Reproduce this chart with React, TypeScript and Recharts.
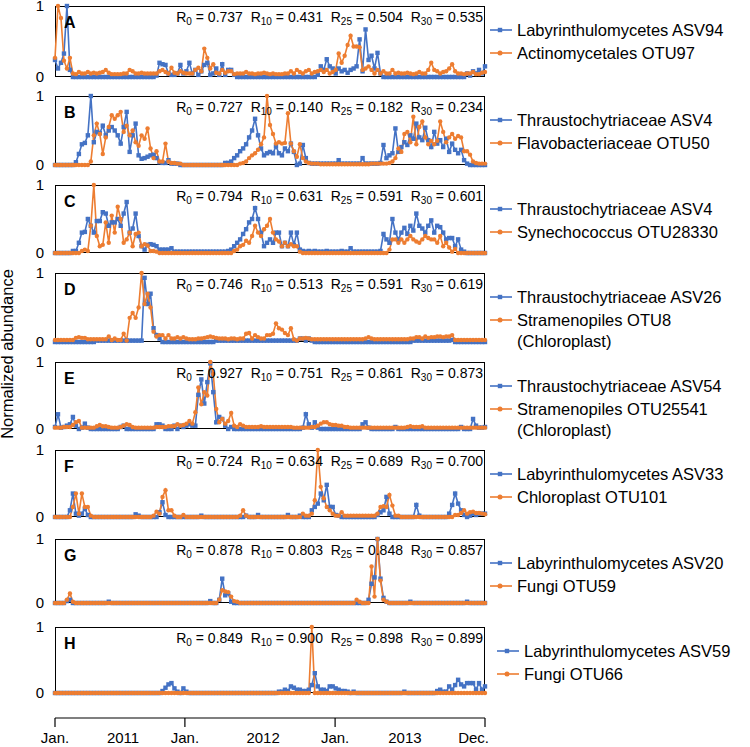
import React from "react";
import { LineChart, Line, XAxis, YAxis } from "recharts";

const BLUE = "#4472C4";
const ORANGE = "#ED7D31";
const FONT = "'Liberation Sans', Arial, sans-serif";

// panel labels and stats
const letters = ["A", "B", "C", "D", "E", "F", "G", "H"];
const r0 = ["0.737", "0.727", "0.794", "0.746", "0.927", "0.724", "0.878", "0.849"];
const r10 = ["0.431", "0.140", "0.631", "0.513", "0.751", "0.634", "0.803", "0.900"];
const r25 = ["0.504", "0.182", "0.591", "0.591", "0.861", "0.689", "0.848", "0.898"];
const r30 = ["0.535", "0.234", "0.601", "0.619", "0.873", "0.700", "0.857", "0.899"];
const blueNames = [
  "Labyrinthulomycetes ASV94",
  "Thraustochytriaceae ASV4",
  "Thraustochytriaceae ASV4",
  "Thraustochytriaceae ASV26",
  "Thraustochytriaceae ASV54",
  "Labyrinthulomycetes ASV33",
  "Labyrinthulomycetes ASV20",
  "Labyrinthulomycetes ASV59",
];
const orangeNames = [
  "Actinomycetales OTU97",
  "Flavobacteriaceae OTU50",
  "Synechococcus OTU28330",
  "Stramenopiles OTU8\n(Chloroplast)",
  "Stramenopiles OTU25541\n(Chloroplast)",
  "Chloroplast OTU101",
  "Fungi OTU59",
  "Fungi OTU66",
];

// bottom axis labels (x in sample index)
const axisTicks = [0, 22.8, 43.5, 69.7, 93.8, 117.2, 144];
const axisLabels = ["Jan.", "2011", "Jan.", "2012", "Jan.", "2013", "Dec."];
const axisMarks = [true, false, true, false, true, false, true];

// series, one value per sample (145 samples)
const aBlue = [
  .24, .12, .2, .33, 1, .1, 0, 0, 0, 0,
  0, 0, 0, 0, 0, 0, 0, 0, 0, 0,
  0, 0, 0, 0, 0, 0, 0, 0, 0, 0,
  0, 0, 0, 0, .02, .2, .18, .17, .05, .03,
  .03, .05, .17, .05, .08, .2, .05, .1, .03, .08,
  .17, .2, .03, .05, .12, .03, .18, .03, .1, .1,
  .03, 0, 0, 0, 0, 0, 0, 0, 0, 0,
  0, 0, 0, 0, 0, 0, 0, 0, 0, 0,
  0, 0, 0, 0, 0, 0, 0, 0, .03, .15,
  .1, .25, .15, .12, .05, .12, .08, .1, .06, .1,
  .12, .15, .53, .08, .67, .24, .3, .12, .34, .05,
  0, 0, 0, 0, 0, 0, 0, 0, 0, 0,
  0, 0, 0, 0, 0, 0, 0, 0, 0, 0,
  0, 0, 0, 0, 0, 0, 0, 0, .05, .02,
  .08, .05, .1, .05, .15,
];
const aOrange = [
  .27, 1, .83, .23, .12, .27, .05, .04, .07, .05,
  .05, .07, .05, .06, .05, .06, .07, .1, .06, .04,
  .04, .04, .04, .05, .05, .1, .08, .05, .05, .06,
  .05, .05, .05, .05, .05, .08, .1, .07, .05, .13,
  .06, .05, .08, .06, .05, .05, .05, .1, .13, .08,
  .4, .27, .12, .18, .06, .05, .1, .06, .08, .08,
  .04, .05, .05, .05, .07, .05, .05, .04, .05, .05,
  .06, .05, .04, .05, .04, .04, .04, .05, .05, .08,
  .05, .1, .07, .05, .08, .1, .05, .07, .08, .1,
  .07, .1, .05, .07, .1, .33, .2, .3, .45, .58,
  .43, .43, .42, .1, .12, .15, .1, .05, .1, .05,
  .08, .05, .05, .1, .05, .06, .05, .05, .06, .05,
  .04, .05, .07, .05, .05, .1, .2, .1, .08, .05,
  .07, .08, .12, .18, .08, .05, .05, .04, .05, .05,
  .07, .04, .04, .06, .07,
];
const bBlue = [
  0, 0, 0, 0, 0, 0, 0, .04, .16, .3,
  .32, .43, 1, .33, .48, .46, .57, .43, .5, .55,
  .5, .43, .31, .55, .77, .19, .43, .6, .14, .09,
  .1, .12, .14, .15, .1, .04, .03, .03, .07, .02,
  .02, .02, 0, 0, 0, 0, 0, 0, 0, 0,
  0, 0, 0, 0, 0, 0, 0, .03, .03, .05,
  .1, .14, .2, .24, .3, .4, .5, .67, .43, .24,
  .14, .17, .19, .17, .27, .17, .14, .24, .2, .31,
  .19, 0, .02, .29, .1, .03, .02, .02, .02, .02,
  .02, .02, .02, .02, .02, .07, .02, .02, .02, .02,
  .02, .02, .02, .1, .02, .02, .02, .02, .02, .03,
  .29, .1, .14, .17, .53, .19, .26, .33, .29, .43,
  .38, .6, .4, .36, .54, .36, .26, .48, .31, .36,
  .26, .38, .19, .31, .22, .17, .22, .07, .02, 0,
  0, 0, 0, 0, 0,
];
const bOrange = [
  0, 0, 0, 0, 0, 0, 0, 0, 0, 0,
  0, 0, .05, .43, .6, .45, .16, .4, .55, .72,
  .67, .72, .77, .48, .57, .43, .5, .33, .28, .43,
  .38, .53, .24, .1, .2, .05, .05, .31, .05, .03,
  .03, .02, .02, 0, 0, 0, 0, 0, 0, 0,
  0, 0, 0, 0, 0, 0, 0, 0, 0, 0,
  0, 0, .02, .03, .05, .1, .14, .17, .22, .3,
  .4, 1, .58, .45, .31, .33, .31, .32, .75, .31,
  .2, .12, .3, .1, .05, .03, .02, .02, .02, .01,
  .01, .01, .01, .01, .01, .01, .01, .01, .01, .01,
  .01, .01, .01, .01, .01, .01, .02, .02, .02, .02,
  .02, .02, .03, .05, .1, .24, .19, .45, .48, .33,
  .7, .3, .55, .63, .4, .3, .35, .3, .35, .63,
  .48, .33, .4, .45, .38, .42, .4, .2, .2, .15,
  .05, .03, .02, .02, .02,
];
const cBlue = [
  0, 0, 0, 0, 0, 0, .03, .03, .15, .3,
  .31, .5, .4, .3, .47, .47, .6, .58, .4, .45,
  .45, .5, .4, .58, .75, .3, .36, .58, .25, .1,
  .05, .12, .13, .12, .1, .05, .05, .05, .05, .07,
  .02, .02, .02, .02, .02, .02, .02, .02, .02, .02,
  .02, .02, .02, .02, .02, .02, .02, .02, .03, .05,
  .1, .15, .2, .28, .35, .45, .5, .66, .5, .3,
  .1, .15, .2, .15, .3, .3, .1, .15, .1, .3,
  .12, .3, .05, .03, .02, .03, .02, .03, .02, .02,
  .02, .03, .02, .02, .02, .02, .03, .02, .02, .07,
  .02, .02, .02, .02, .02, .02, .02, .02, .02, .03,
  .28, .2, .15, .5, .3, .2, .3, .37, .28, .4,
  .33, .58, .4, .36, .3, .4, .48, .3, .4, .38,
  .3, .2, .22, .22, .1, .2, .05, .02, 0, 0,
  0, 0, 0, 0, 0,
];
const cOrange = [
  0, 0, 0, 0, 0, 0, 0, 0, 0, .03,
  .05, .03, .4, 1, .25, .1, .12, .45, .15, .55,
  .3, .68, .5, .15, .2, .3, .1, .28, .3, .1,
  .13, .11, .03, .03, .02, 0, 0, 0, 0, 0,
  0, 0, 0, 0, 0, 0, 0, 0, 0, 0,
  0, 0, 0, 0, 0, 0, 0, 0, 0, 0,
  .03, .05, .1, .12, .18, .15, .25, .4, .3, .25,
  .35, .4, .5, .3, .2, .17, .1, .15, .1, .13,
  .1, .1, .02, 0, 0, 0, 0, 0, 0, 0,
  0, 0, 0, 0, 0, 0, 0, 0, 0, 0,
  0, 0, 0, 0, 0, 0, 0, 0, 0, 0,
  0, 0, .05, .2, .2, .15, .2, .15, .2, .25,
  .2, .17, .15, .2, .25, .22, .2, .2, .15, .25,
  .1, .15, .08, .02, .06, 0, 0, 0, 0, 0,
  0, 0, 0, 0, 0,
];
const dBlue = [
  0, 0, 0, 0, 0, 0, 0, 0, 0, 0,
  0, 0, 0, 0, .02, .02, .02, .02, .02, .02,
  .02, .02, .02, .02, .02, .02, .02, .02, .02, .02,
  .93, .55, .7, .2, .1, .05, 0, 0, 0, 0,
  0, 0, 0, 0, 0, 0, 0, 0, 0, 0,
  0, 0, 0, 0, .02, .02, .02, .02, .02, .02,
  .02, .02, .02, .02, .02, .02, .02, .02, .02, .02,
  .02, .02, .02, .02, .02, .02, .02, .02, .02, .02,
  .02, .02, .05, .05, .02, .05, .02, 0, 0, 0,
  0, 0, 0, 0, 0, 0, 0, 0, 0, 0,
  0, 0, 0, 0, 0, 0, 0, 0, 0, 0,
  0, 0, 0, 0, 0, 0, 0, 0, 0, 0,
  .02, .02, .02, .02, .02, .02, .02, .02, .02, .02,
  .02, .02, .02, .03, 0, 0, 0, 0, 0, 0,
  0, 0, 0, 0, 0,
];
const dOrange = [
  .03, .03, .03, .03, .03, .03, .03, .06, .07, .06,
  .06, .04, .04, .04, .04, .04, .04, .04, .08, .03,
  .05, .03, .03, .12, .02, .35, .42, .35, .5, 1,
  .55, .7, .5, .15, .08, .1, .1, .05, .1, .05,
  .05, .07, .05, .07, .05, .04, .04, .04, .05, .05,
  .06, .07, .08, .07, .06, .05, .05, .05, .04, .05,
  .05, .04, .05, .05, .12, .13, .05, .1, .07, .05,
  .05, .1, .1, .12, .27, .2, .18, .13, .1, .2,
  .04, .02, .05, .05, .06, .05, .04, .04, .04, .04,
  .04, .04, .04, .04, .04, .04, .04, .04, .04, .04,
  .04, .04, .04, .04, .05, .07, .05, .04, .04, .04,
  .04, .04, .04, .04, .04, .04, .04, .04, .04, .05,
  .05, .07, .07, .05, .08, .06, .07, .07, .08, .08,
  .07, .08, .08, .1, .03, .03, .03, .03, .03, .03,
  .03, .03, .03, .03, .03,
];
const eBlue = [
  .03, .22, .02, .03, .05, .07, .18, .05, 0, .02,
  .08, .02, 0, 0, 0, 0, 0, 0, 0, 0,
  0, 0, .03, .05, 0, 0, 0, 0, 0, 0,
  0, 0, 0, 0, .07, .07, .05, 0, 0, 0,
  .05, 0, .05, .03, .05, .07, .05, .05, .51, .74,
  .38, .7, .98, .55, .1, .18, .15, .05, 0, .03,
  0, 0, 0, 0, 0, 0, 0, 0, 0, 0,
  0, 0, 0, 0, 0, 0, 0, 0, 0, 0,
  0, 0, 0, .02, .22, .07, .02, .1, .02, 0,
  0, 0, 0, 0, 0, 0, 0, 0, 0, 0,
  0, 0, 0, .07, .1, .02, 0, 0, 0, 0,
  0, 0, 0, 0, .03, 0, 0, 0, 0, 0,
  0, 0, 0, 0, 0, 0, 0, 0, 0, 0,
  0, 0, 0, 0, 0, 0, .03, 0, 0, 0,
  .15, .05, .02, .02, .03,
];
const eOrange = [
  .02, .02, .02, .03, .03, .03, .06, .1, .12, .02,
  .02, .02, .02, .02, .04, .06, .04, .04, .03, .02,
  .02, .02, .03, .05, .07, .06, .03, .02, .02, .02,
  .02, .02, .02, .02, .03, .03, .03, .03, .04, .04,
  .04, .07, .05, .06, .08, .12, .08, .25, .62, .37,
  .55, .5, 1, .82, .3, .1, .15, .08, .12, .24,
  .05, .03, .07, .05, .03, .03, .03, .03, .03, .04,
  .03, .03, .03, .03, .03, .03, .03, .03, .03, .03,
  .02, .02, .02, .02, .02, .02, .03, .03, .05, .08,
  .1, .1, .07, .06, .06, .05, .05, .03, .03, .02,
  .02, .02, .02, .02, .02, .02, .02, .02, .02, .02,
  .02, .02, .02, .02, .02, .02, .02, .02, .03, .04,
  .03, .03, .03, .04, .02, .02, .02, .02, .02, .02,
  .02, .02, .02, .02, .02, .02, .02, .02, .02, .02,
  .02, .02, .02, .02, .02,
];
const fBlue = [
  0, 0, 0, 0, 0, .1, .35, .05, .02, .05,
  .12, .03, 0, 0, 0, 0, 0, 0, 0, 0,
  0, 0, 0, 0, 0, 0, 0, .04, .02, 0,
  0, 0, 0, 0, 0, .07, .22, .03, 0, 0,
  0, 0, 0, 0, 0, 0, 0, 0, 0, .02,
  0, 0, 0, 0, 0, 0, 0, 0, 0, 0,
  0, 0, 0, 0, .02, 0, 0, 0, .03, 0,
  0, 0, 0, 0, 0, 0, 0, 0, .03, 0,
  0, 0, .02, 0, 0, 0, .1, .15, .2, .35,
  .25, .48, .15, .15, .03, .02, 0, 0, 0, 0,
  0, 0, 0, 0, 0, 0, 0, 0, .03, .07,
  .1, .3, .05, 0, 0, 0, 0, 0, 0, 0,
  0, .18, .02, 0, 0, 0, 0, 0, 0, 0,
  0, 0, .05, .18, .35, .2, .1, .03, 0, .02,
  .05, .03, .05, .05, .05,
];
const fOrange = [
  0, 0, 0, 0, 0, 0, .15, .35, .05, .35,
  .15, .15, .02, 0, 0, 0, 0, 0, 0, 0,
  0, 0, 0, 0, 0, 0, 0, 0, 0, 0,
  0, 0, 0, .02, .08, .05, .3, .4, .1, .1,
  .02, 0, 0, .03, 0, 0, 0, 0, 0, 0,
  0, 0, 0, 0, 0, 0, 0, 0, 0, 0,
  0, 0, .02, .1, .02, 0, 0, 0, 0, 0,
  0, 0, 0, 0, 0, 0, 0, 0, 0, 0,
  0, 0, 0, .05, .02, .02, .05, .25, 1, .45,
  .28, .15, .1, .05, .02, .02, .07, .02, .02, .02,
  .02, .02, .02, .02, .02, .02, .02, .02, .05, .15,
  .16, .15, .33, .17, .02, .02, 0, 0, 0, 0,
  0, 0, 0, 0, 0, 0, 0, 0, 0, 0,
  0, 0, 0, 0, .03, .03, .06, .1, .05, .07,
  .08, .06, .06, .05, .04,
];
const gBlue = [
  0, 0, 0, 0, .03, .05, 0, 0, 0, 0,
  0, 0, 0, 0, 0, 0, 0, 0, .02, 0,
  0, 0, 0, 0, 0, 0, 0, 0, 0, 0,
  0, 0, 0, 0, 0, 0, 0, 0, 0, 0,
  0, 0, 0, 0, 0, 0, 0, 0, 0, 0,
  0, 0, .03, 0, 0, .05, .38, .12, .15, .02,
  0, 0, 0, 0, 0, 0, 0, 0, 0, 0,
  0, 0, 0, 0, 0, 0, 0, 0, 0, 0,
  0, 0, 0, 0, 0, 0, 0, 0, 0, 0,
  0, 0, 0, 0, 0, 0, 0, 0, 0, 0,
  0, 0, 0, 0, 0, .05, .3, .4, 1, .38,
  .08, .02, 0, 0, 0, 0, 0, 0, 0, .02,
  0, 0, 0, 0, 0, 0, 0, 0, 0, 0,
  0, 0, 0, 0, 0, 0, 0, 0, .02, 0,
  0, 0, 0, 0, 0,
];
const gOrange = [
  0, 0, 0, 0, .05, .15, .02, 0, 0, 0,
  0, 0, 0, 0, 0, 0, 0, 0, 0, 0,
  0, 0, 0, 0, 0, 0, 0, 0, 0, 0,
  0, 0, 0, 0, 0, 0, 0, 0, 0, 0,
  0, 0, 0, 0, 0, 0, 0, 0, 0, 0,
  0, 0, 0, 0, 0, .05, .2, .18, .17, .1,
  .03, .02, 0, 0, 0, 0, 0, 0, 0, 0,
  0, 0, 0, 0, 0, 0, 0, 0, 0, 0,
  0, 0, 0, 0, 0, 0, 0, 0, 0, 0,
  0, 0, 0, 0, 0, 0, 0, 0, 0, 0,
  0, .05, .02, 0, 0, 0, .57, .1, 1, .35,
  .05, .02, 0, 0, 0, 0, 0, 0, 0, 0,
  0, 0, 0, 0, 0, 0, 0, 0, 0, 0,
  0, 0, 0, 0, 0, 0, 0, 0, 0, 0,
  0, 0, 0, 0, 0,
];
const hBlue = [
  0, 0, 0, 0, 0, 0, 0, 0, 0, 0,
  0, 0, 0, 0, 0, 0, 0, 0, 0, 0,
  0, 0, 0, 0, 0, 0, 0, 0, 0, 0,
  0, 0, 0, 0, 0, 0, .03, .08, .13, .15,
  .07, .02, 0, .07, .02, 0, 0, 0, 0, 0,
  0, 0, 0, 0, 0, 0, 0, 0, 0, 0,
  0, 0, 0, 0, 0, 0, 0, 0, 0, 0,
  0, 0, 0, 0, 0, .02, .02, .05, .03, .1,
  .08, .05, .05, .03, .03, .05, .12, .3, .1, .05,
  .05, .03, .1, .1, .07, .05, .03, .03, .02, 0,
  .02, 0, 0, 0, 0, 0, 0, 0, 0, 0,
  0, 0, 0, 0, 0, 0, 0, .02, 0, 0,
  0, 0, 0, 0, 0, 0, 0, 0, .03, .05,
  .02, .02, .1, .05, .12, .2, .13, .1, .15, .15,
  .15, .05, .15, .05, .1,
];
const hOrange = [
  0, 0, 0, 0, 0, 0, 0, 0, 0, 0,
  0, 0, 0, 0, 0, 0, 0, 0, 0, 0,
  0, 0, 0, 0, 0, 0, 0, 0, 0, 0,
  0, 0, 0, 0, 0, 0, 0, 0, 0, 0,
  0, 0, 0, 0, 0, 0, 0, 0, 0, 0,
  0, 0, 0, 0, 0, 0, 0, 0, 0, 0,
  0, 0, 0, 0, 0, 0, 0, 0, 0, 0,
  0, 0, 0, 0, 0, 0, 0, 0, 0, 0,
  0, 0, 0, 0, 0, 0, 1, 0, 0, 0,
  0, 0, 0, 0, 0, 0, 0, 0, 0, 0,
  0, 0, 0, 0, 0, 0, 0, 0, 0, 0,
  0, 0, 0, 0, 0, 0, 0, 0, 0, 0,
  0, 0, 0, 0, 0, 0, 0, 0, 0, 0,
  0, 0, 0, 0, 0, 0, 0, 0, 0, 0,
  0, 0, 0, 0, 0,
];

const blueSeries = [aBlue, bBlue, cBlue, dBlue, eBlue, fBlue, gBlue, hBlue];
const orangeSeries = [aOrange, bOrange, cOrange, dOrange, eOrange, fOrange, gOrange, hOrange];

// layout: box top / bottom of every panel in page pixels
const boxTop = [6, 96, 185, 273, 362, 450, 539, 627];
const boxBottom = [77, 165, 253, 342, 429, 517, 603, 693];
const PLOT_L = 55;
const PLOT_R = 485;
const W = 750;
const PAD = 10;

const SquareDot = (props: any) => {
  const { cx, cy, index } = props;
  if (cx == null || cy == null) return <g key={index} />;
  return <rect key={index} x={cx - 2.2} y={cy - 2.2} width={4.4} height={4.4} fill={BLUE} />;
};

function Sub({ children }: { children: React.ReactNode }) {
  return (
    <span style={{ fontSize: 10, position: "relative", top: 3 }}>{children}</span>
  );
}

function Panel({ k }: { k: number }) {
  const top = boxTop[k];
  const h = boxBottom[k] - top;
  const data = blueSeries[k].map((b, i) => ({ i, b, o: orangeSeries[k][i] }));
  const legendX = k === 7 ? 497 : 490;
  return (
    <>
      <div
        style={{
          position: "absolute",
          left: PLOT_L,
          top,
          width: PLOT_R - PLOT_L,
          height: h,
          border: "1px solid #000",
          boxSizing: "border-box",
        }}
      />
      <div style={{ position: "absolute", left: 0, top: top - PAD }}>
        <LineChart
          width={W}
          height={h + PAD * 2}
          data={data}
          margin={{ top: PAD, right: W - PLOT_R, bottom: PAD, left: 0 }}
        >
          <XAxis dataKey="i" type="number" domain={[0, 144]} hide />
          <YAxis
            domain={[0, 1]}
            ticks={[0, 1]}
            width={PLOT_L}
            axisLine={false}
            tickLine={false}
            tickMargin={5}
            tick={{ fill: "#000", fontSize: 15, fontFamily: FONT }}
          />
          <Line
            dataKey="b"
            stroke={BLUE}
            strokeWidth={1.6}
            dot={SquareDot}
            activeDot={false}
            isAnimationActive={false}
          />
          <Line
            dataKey="o"
            stroke={ORANGE}
            strokeWidth={1.6}
            dot={{ r: 2.2, fill: ORANGE, stroke: "none" }}
            activeDot={false}
            isAnimationActive={false}
          />
        </LineChart>
      </div>
      <div
        style={{
          position: "absolute",
          left: 64,
          top: top + 7,
          fontSize: 16,
          fontWeight: "bold",
          lineHeight: "20px",
        }}
      >
        {letters[k]}
      </div>
      <div
        style={{
          position: "absolute",
          right: W - 483,
          top: top + 3,
          fontSize: 14,
          lineHeight: "16px",
          whiteSpace: "nowrap",
        }}
      >
        R<Sub>0</Sub> = {r0[k]}&nbsp;&nbsp;R<Sub>10</Sub> = {r10[k]}&nbsp;&nbsp;R<Sub>25</Sub> ={" "}
        {r25[k]}&nbsp;&nbsp;R<Sub>30</Sub> = {r30[k]}
      </div>
      {[blueNames[k], orangeNames[k]].map((name, j) => {
        const cy = top + 24 + j * 23;
        const color = j === 0 ? BLUE : ORANGE;
        return (
          <div key={j}>
            <svg
              style={{ position: "absolute", left: legendX, top: cy - 5 }}
              width={24}
              height={10}
            >
              <line x1={0} y1={5} x2={22} y2={5} stroke={color} strokeWidth={1.6} />
              {j === 0 ? (
                <rect x={7.8} y={2.8} width={4.4} height={4.4} fill={BLUE} />
              ) : (
                <circle cx={10} cy={5} r={2.5} fill={ORANGE} />
              )}
            </svg>
            <div
              style={{
                position: "absolute",
                left: legendX + 27,
                top: cy - 10,
                fontSize: 16.5,
                lineHeight: "21px",
                whiteSpace: "pre",
              }}
            >
              {name}
            </div>
          </div>
        );
      })}
    </>
  );
}

const AxisTick = (props: any) => {
  const { x, y, index } = props;
  const last = index === axisLabels.length - 1;
  return (
    <g>
      {axisMarks[index] && <line x1={x} y1={y - 8} x2={x} y2={y + 1} stroke="#000" strokeWidth={1.2} />}
      <text
        x={last ? x + 4 : x}
        y={y + 17}
        textAnchor={last ? "end" : "middle"}
        fontSize={15}
        fontFamily={FONT}
        fill="#000"
      >
        {axisLabels[index]}
      </text>
    </g>
  );
};

export default function App() {
  const axisData = [{ i: 0 }, { i: 144 }];
  return (
    <div
      style={{
        position: "absolute",
        left: 0,
        top: 0,
        width: W,
        height: 747,
        background: "#fff",
        fontFamily: FONT,
        color: "#000",
        overflow: "hidden",
      }}
    >
      {letters.map((_, k) => (
        <Panel key={k} k={k} />
      ))}
      <div style={{ position: "absolute", left: 0, top: 700 }}>
        <LineChart
          width={W}
          height={47}
          data={axisData}
          margin={{ top: 10, right: W - PLOT_R, bottom: 0, left: PLOT_L }}
        >
          <XAxis
            dataKey="i"
            type="number"
            domain={[0, 144]}
            ticks={axisTicks}
            interval={0}
            height={29}
            tickLine={false}
            axisLine={{ stroke: "#000", strokeWidth: 1.2 }}
            tick={AxisTick}
          />
        </LineChart>
      </div>
      <div
        style={{
          position: "absolute",
          left: 7,
          top: 354,
          transform: "translate(-50%, -50%) rotate(-90deg)",
          fontSize: 16.5,
          whiteSpace: "nowrap",
        }}
      >
        Normalized abundance
      </div>
    </div>
  );
}
